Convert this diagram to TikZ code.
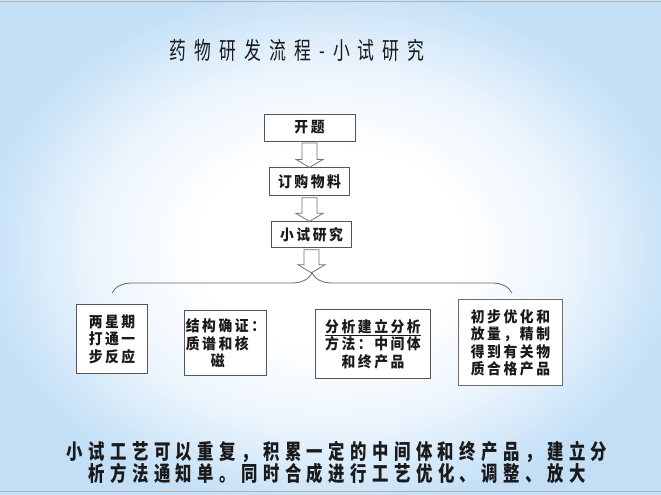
\documentclass[tikz,border=0pt]{standalone}
\usepackage{fontspec}
\usepackage{xcolor}
\usepackage{tikz}
\usetikzlibrary{positioning, calc, decorations.pathreplacing}
\newfontfamily\titlecjk[FakeStretch=0.7,LetterSpace=34]{Noto Sans CJK SC}
\newfontfamily\boxcjk[FakeStretch=0.92,LetterSpace=17]{Noto Sans CJK SC}
\newfontfamily\notecjk[FakeStretch=0.78,LetterSpace=26]{Noto Sans CJK SC}
\definecolor{bgblue}{RGB}{194,223,246}
\definecolor{bgpale}{RGB}{236,245,253}
\definecolor{inkgray}{RGB}{26,26,26}
\definecolor{framegray}{RGB}{85,85,90}
\pgfdeclareradialshading{slideshade}{\pgfpoint{0bp}{0bp}}{%
  color(0bp)=(white); color(10bp)=(white); color(18bp)=(bgpale); color(27bp)=(bgblue); color(50bp)=(bgblue)}

\begin{document}
\begin{tikzpicture}[
  x=1pt, y=1pt,
  stepbox/.style={rectangle, draw=framegray, line width=0.9pt, fill=white, inner sep=0.5pt,
                  align=center, text=inkgray, font=\boxcjk\bfseries\fontsize{15}{17.5}\selectfont},
  hollow/.style={draw=gray!90!black, line width=0.8pt, fill=white, line join=miter},
  bracel/.style={draw=gray!80!black, line width=0.8pt},
]
  % slide background
  \useasboundingbox (0,0) rectangle (661,495);
  \shade[shading=slideshade] (0,0) rectangle (661,495);
  \draw[gray!60, line width=0.8pt] (0,494) -- (661,494);
  \draw[gray!60, line width=0.8pt] (0,3.5) -- (661,3.5);

  \node[text=inkgray, font=\titlecjk\fontsize{24}{24}\selectfont] (title) at (297,445) {药物研发流程-小试研究};

  \node[stepbox, minimum width=91pt, minimum height=27pt] (kaiti) at (309.5,367.5) {开题};
  \node[stepbox, minimum width=80pt, minimum height=28pt, below=26pt of kaiti] (dinggou) {订购物料};
  \node[stepbox, minimum width=80pt, minimum height=26pt, below=25pt of dinggou, xshift=2pt] (xiaoshi) {小试研究};

  \node[stepbox, minimum width=71pt, minimum height=69pt, below=56pt of xiaoshi, xshift=-199.5pt] (fanying)
    {两星期\\打通一\\步反应};
  \node[stepbox, minimum width=82pt, minimum height=65pt, below=62pt of xiaoshi, xshift=-86pt, align=left] (queren)
    {结构确证：\\质谱和核\\\hspace*{25pt}磁};
  \node[stepbox, minimum width=115pt, minimum height=69pt, below=61pt of xiaoshi, xshift=61.5pt] (fenxi)
    {\underline{分析建立分析}\\方法：中间体\\和终产品};
  \node[stepbox, minimum width=104pt, minimum height=86pt, below=51pt of xiaoshi, xshift=199pt, draw=gray!85!black] (youhua)
    {初步优化和\\放量，精制\\得到有关物\\质合格产品};

  % brace over the four tasks
  \coordinate (bracel) at (112,202);
  \coordinate (bracer) at (512,202);
  \node[inner sep=0pt, minimum size=0pt] (bracetip) at (312,222) {};
  \draw[bracel, decorate, decoration={brace, amplitude=20pt}] (bracel) -- (bracer);

  \foreach \from/\to in {kaiti/dinggou, dinggou/xiaoshi, xiaoshi/bracetip}
    \draw[hollow] let \p1=(\from.south), \p2=(\to.north) in
      (\x1-7.5pt,\y1-1.5pt) -- (\x1+7.5pt,\y1-1.5pt) -- (\x1+7.5pt,\y2+8pt) -- (\x1+13.5pt,\y2+8pt)
      -- (\x1,\y2) -- (\x1-13.5pt,\y2+8pt) -- (\x1-7.5pt,\y2+8pt) -- cycle;

  \node[text=inkgray, align=center, font=\notecjk\bfseries\fontsize{21}{22}\selectfont] (summary) at (337,32)
    {小试工艺可以重复，积累一定的中间体和终产品，建立分\\析方法通知单。同时合成进行工艺优化、调整、放大};
\end{tikzpicture}
\end{document}
